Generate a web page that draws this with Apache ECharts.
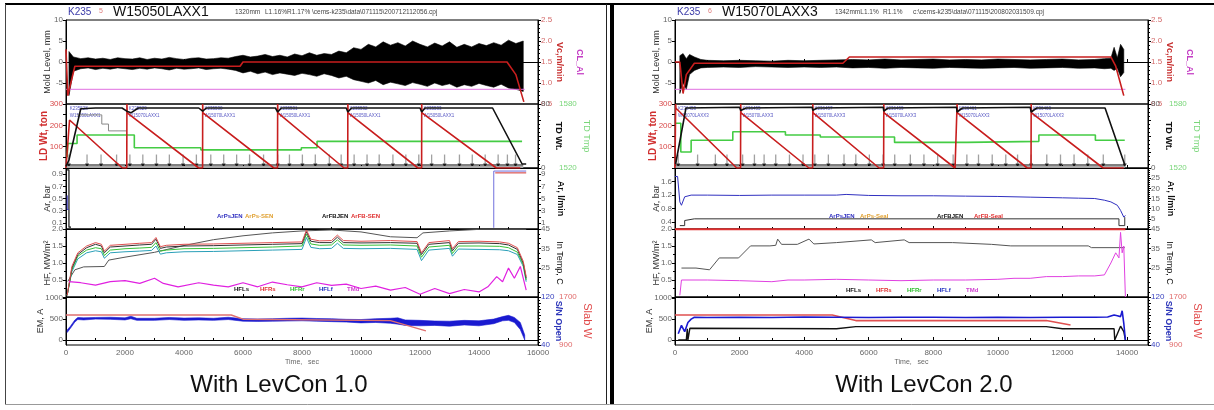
<!DOCTYPE html>
<html lang="en">
<head>
  <meta charset="UTF-8">
  <title>LevCon 1.0 vs LevCon 2.0</title>
  <script src="https://cdn.jsdelivr.net/npm/echarts@6/dist/echarts.min.js"></script>
  <style>
    html, body { margin: 0; padding: 0; background: #fff; }
    #chart { width: 1214px; height: 410px; }
  </style>
</head>
<body>
  <div id="chart"></div>
  <script>
    // ---------- LEFT: LevCon 1.0 (time in s) ----------
    // mold level noise envelope, mm
    var L_mlT = [100,250,500,750,1000,1250,1500,1750,2000,2250,2500,2750,3000,3250,3500,3750,4000,4250,4500,4750,5000,5250,5500,5750,6000,6250,6500,6750,7000,7250,7500,7750,8000,8250,8500,8750,9000,9250,9500,9750,10000,10250,10500,10750,11000,11250,11500,11750,12000,12250,12500,12750,13000,13250,13500,13750,14000,14250,14500,14750,15000,15250,15500];
    var L_mlHi = [2.5,1.2,0.8,1.0,0.7,0.9,0.6,1.0,0.8,0.7,1.0,0.6,0.9,0.7,1.1,0.8,0.6,0.9,1.0,0.7,0.8,1.0,0.9,1.3,1.6,1.2,1.4,1.8,1.3,1.6,1.2,1.9,1.5,2.2,1.6,2.0,1.8,2.6,2.2,3.4,3.0,4.2,3.6,4.8,4.0,4.6,3.8,5.0,4.2,3.6,4.5,3.8,4.8,3.5,4.2,3.6,4.4,3.9,4.6,4.0,5.2,4.4,5.0];
    var L_mlLo = [-8.0,-2.2,-1.6,-1.4,-1.8,-1.5,-1.7,-1.4,-1.6,-1.8,-1.5,-1.7,-1.4,-1.6,-1.9,-1.5,-1.7,-1.6,-1.4,-1.8,-1.6,-1.5,-1.7,-2.0,-2.6,-2.2,-2.8,-2.4,-3.0,-2.6,-2.9,-3.2,-2.7,-3.0,-3.4,-2.8,-3.2,-3.8,-3.4,-4.2,-4.6,-5.0,-4.4,-5.4,-4.8,-5.2,-5.6,-4.9,-5.3,-5.8,-5.0,-5.6,-5.2,-6.0,-5.4,-5.8,-5.1,-5.6,-6.0,-5.3,-6.2,-6.5,-7.0];
    // casting speed, m/min
    var L_vcT = [0, 60, 300, 5900, 6000, 14950, 15250, 15520];
    var L_vc = [1.8, 0.7, 1.4, 1.4, 1.5, 1.5, 1.2, 0.55];
    var L_clT = [0, 15550];
    var L_cl = [-6.5, -6.5];
    // ladle weight (ton), tundish weight, tundish temperature
    var L_ldT = [0,40,120,1910,2060,2065,2075,4500,4630,4633,4643,7045,7170,7175,7185,9425,9550,9554,9564,11930,12055,12058,12068,14585,15400];
    var L_ld = [0,0,225,0,0,300,258,0,0,300,258,0,0,300,258,0,0,300,258,0,0,300,258,0,0];
    var L_tdT = [0,100,500,1000,1900,2060,2200,2450,4500,4633,4760,7100,7175,7300,9500,9554,9680,12000,12058,12170,14460,15460,15600];
    var L_td = [2,10,74,75,75,71,69,75,75,71,75,75,70,75,75,70,75,75,70,75,75,5,5];
    var L_grayT = [375, 1213, 1213, 1440, 1440, 2060];
    var L_gray = [249, 249, 206, 206, 174, 174];
    var L_tmpT = [40,60,375,375,2316,2316,4570,4570,7977,7977,8510,8510,15460];
    var L_tmp = [1530,1543,1543,1551,1551,1539,1539,1537,1537,1539,1539,1545,1545];
    var L_ladleT = [90, 2090, 4660, 7200, 9580, 12085];
    var L_ladleNames = ['K235528\nW15050LAXX1','K235529\nW15070LAXX1','K235530\nW15070LAXX1','K235531\nW15050LAXX1','K235532\nW15050LAXX1','K235533\nW15050LAXX1'];
    var L_markT = [98,713,1188,1715,2166,2604,3066,3504,3969,4420,4908,5346,5784,6223,6697,7175,7574,8013,8451,8926,9328,9767,10205,10617,11082,11520,11959,12394,12833,13337,13772,14210,14649,14963,15238];
    // argon
    var L_arBlackT = [30, 100, 100, 170];
    var L_arBlack = [0.97, 0.97, 0.03, 0.03];
    var L_arBlueT = [40, 40, 90];
    var L_arBlue = [0.55, 0.32, 0.32];
    var L_arEndT = [14500, 14500, 15600];
    var L_arEnd = [0.02, 0.95, 0.95];
    var L_arRedT = [14550, 15600];
    var L_arRed = [0.92, 0.92];
    // heat flux, MW/m2
    var L_hfT = [40,200,400,700,1000,1200,1300,1500,2000,2500,2900,3050,3200,3400,4000,5000,6000,7000,8000,8150,8300,8600,9000,9200,9400,10000,11000,11900,12050,12300,13000,13100,13300,14000,14700,15000,15300,15500,15600];
    var L_hfRed = [0.05,0.9,1.3,1.5,1.6,1.55,1.35,1.52,1.55,1.58,1.6,1.75,1.48,1.52,1.55,1.56,1.58,1.6,1.62,1.97,1.7,1.65,1.66,1.82,1.66,1.64,1.66,1.63,1.3,1.6,1.66,1.42,1.63,1.64,1.62,1.58,1.45,1.05,0.6];
    var L_hfBlack = [0.05,0.85,1.25,1.45,1.55,1.5,1.3,1.47,1.5,1.53,1.55,1.7,1.43,1.47,1.5,1.51,1.53,1.55,1.57,1.92,1.64,1.6,1.6,1.76,1.6,1.59,1.6,1.58,1.25,1.55,1.6,1.36,1.58,1.59,1.57,1.53,1.4,1.0,0.55];
    var L_hfGreen = [0.05,0.8,1.2,1.38,1.45,1.42,1.22,1.38,1.42,1.44,1.46,1.6,1.35,1.38,1.42,1.43,1.45,1.47,1.5,1.85,1.56,1.52,1.53,1.68,1.53,1.52,1.53,1.5,1.17,1.47,1.52,1.28,1.5,1.5,1.49,1.45,1.32,0.95,0.5];
    var L_hfTeal = [0.05,0.75,1.12,1.3,1.36,1.33,1.14,1.3,1.33,1.35,1.37,1.5,1.26,1.3,1.33,1.34,1.36,1.38,1.4,1.75,1.46,1.42,1.43,1.58,1.43,1.42,1.43,1.4,1.07,1.38,1.43,1.2,1.41,1.4,1.39,1.36,1.25,0.9,0.45];
    var L_inT = [60,300,600,1300,1450,2000,3000,4000,5000,6000,7000,8000,9000,10000,11000,11900,12100,13000,14000,15000,15600];
    var L_in = [18,24,25.5,25.7,29,30.5,33,36.5,39.5,41.5,43,44,44.5,43.5,41,40.5,43,44,44.8,44.8,44.8];
    var L_magT = [100,500,1000,1500,2000,2500,3000,3300,3800,4500,5000,5500,6000,6500,7000,7500,8000,8500,9000,9500,10000,10500,11000,11500,12000,12500,13000,13500,14000,14300,14600,14800,15000,15200,15400,15600];
    var L_mag = [0.45,0.42,0.35,0.45,0.48,0.4,0.55,0.4,0.3,0.42,0.35,0.3,0.42,0.3,0.44,0.36,0.3,0.42,0.34,0.38,0.25,0.32,0.2,0.28,0.08,0.25,0.1,0.22,0.15,0.3,0.6,0.45,0.85,0.55,0.9,0.2];
    // EMBR current, A and slab width, mm
    var L_emT = [40,150,300,400,600,1000,1500,2000,2200,2400,3000,3500,4000,4500,5000,5500,6000,6500,7000,7500,8000,8500,9000,9500,10000,10500,11000,11250,11500,12000,12500,13000,13500,14000,14500,14800,15000,15200,15400,15550];
    var L_emHi = [240,330,480,540,530,540,545,530,570,520,520,540,525,530,520,545,510,505,510,520,525,515,510,495,490,510,520,530,480,470,455,450,470,460,500,560,590,540,420,120];
    var L_emLo = [180,280,430,490,480,500,495,480,510,470,470,490,470,480,470,490,450,445,450,455,460,450,440,430,410,420,400,380,350,340,350,330,360,340,390,460,470,420,250,0];
    var L_slabT = [0, 5600, 6000, 11000, 12200];
    var L_slab = [1400, 1400, 1330, 1307, 1135];

    // ---------- RIGHT: LevCon 2.0 ----------
    var R_mlT = [150,250,350,450,600,800,1000,1500,2000,2500,3000,3500,4000,4500,5000,5500,6000,6500,7000,7500,8000,8500,9000,9500,10000,10500,11000,11500,12000,12500,13000,13300,13500,13600,13700,13800,13900];
    var R_mlHi = [1.5,2.0,0.8,1.8,1.2,0.6,0.4,0.3,0.4,0.3,0.2,0.4,0.3,0.4,0.5,0.6,0.5,0.7,0.5,0.6,0.7,0.5,0.6,0.5,0.7,0.6,0.5,0.6,0.7,0.5,0.6,0.8,0.9,3.5,1.0,4.2,3.0];
    var R_mlLo = [-7.5,-5.0,-6.5,-3.0,-2.0,-1.4,-1.3,-1.2,-1.3,-1.1,-1.2,-1.3,-1.2,-1.3,-1.2,-1.4,-1.3,-1.5,-1.3,-1.4,-1.5,-1.3,-1.4,-1.5,-1.4,-1.3,-1.5,-1.4,-1.3,-1.5,-1.4,-1.6,-1.5,-2.0,-1.5,-3.5,-2.5];
    var R_vcT = [0, 150, 250, 350, 600, 5200, 5400, 13500, 13650, 13900];
    var R_vc = [1.5, 1.5, 0.75, 1.2, 1.47, 1.47, 1.62, 1.62, 1.4, 0.7];
    var R_clT = [0, 13950];
    var R_cl = [-6.5, -6.5];
    var R_ldT = [0,20,30,1912,2030,2035,2045,4148,4263,4268,4278,6322,6462,6467,6477,8674,8732,8737,8747,10911,11027,11032,11042,13260,13900];
    var R_ld = [0,300,280,0,0,300,258,0,0,300,258,0,0,300,258,0,0,300,258,0,0,300,258,0,0];
    var R_tdT = [20,340,2000,2035,2200,4250,4268,4400,6450,6467,6600,8720,8737,8900,11000,11032,11200,13320,13930];
    var R_td = [5,75,76,72,75,76,72,75,76,71,75,76,70,75,76,70,75,75,4];
    var R_tmpT = [20,180,180,500,500,1790,1790,3420,3420,4500,4500,6800,6800,9040,9040,11270,11270,13020,13020,13930];
    var R_tmp = [1562,1562,1535,1535,1546,1546,1554,1554,1551,1551,1549,1549,1544,1544,1545,1545,1551,1551,1546,1546];
    var R_ladleT = [60, 2060, 4290, 6490, 8760, 11055];
    var R_ladleNames = ['K236453\nW15070LAXX3','K236455\nW15070LAXX3','K236457\nW15070LAXX3','K236459\nW15070LAXX3','K236461\nW15070LAXX3','K236463\nW15070LAXX3'];
    var R_markT = [100,700,1250,1610,2095,2460,2760,3120,3545,3965,4330,4750,5235,5600,6020,6445,6805,7290,7710,8135,8615,9040,9400,9825,10245,10610,11030,11515,11940,12360,12785,13265,13930];
    var R_arT = [0,80,150,200,300,500,1000,2000,3000,4000,5000,5300,6000,7000,8000,9000,10000,11000,12000,12500,13000,13300,13500,13700,13800,13900,13950];
    var R_ar = [1.75,1.75,1.0,0.9,1.15,1.2,1.2,1.19,1.2,1.2,1.2,1.22,1.19,1.18,1.18,1.17,1.16,1.14,1.12,1.11,1.1,1.05,1.0,0.9,0.75,0.55,0.6];
    var R_arBlackT = [150, 300, 300, 600, 13750, 13750, 13930, 13930];
    var R_arBlack = [0.3, 0.3, 0.45, 0.5, 0.5, 0.3, 0.3, 0.55];
    var R_inT = [200,650,1070,1370,1970,2340,2940,3120,3180,3300,3790,4150,4300,5000,6080,6200,7100,7250,8600,9800,10400,12800,12900,13930];
    var R_in = [24.9,24.9,24,30.1,30.1,36.3,36.3,36.6,39.8,37.1,37.1,39.8,37.3,38,39.4,38,39.4,38,38,37.1,36.3,36.3,35.4,35.4];
    var R_magT = [150,200,1000,2000,3000,3500,4000,5000,6000,7000,8000,9000,10000,10500,11000,11500,12000,12500,13000,13300,13500,13650,13750,13800,13850,13900,13950];
    var R_mag = [0.05,0.5,0.5,0.48,0.45,0.5,0.5,0.52,0.5,0.48,0.5,0.5,0.52,0.55,0.55,0.6,0.6,0.62,0.62,0.65,1.0,1.3,1.15,1.9,1.3,1.5,0.0];
    var R_hfTopT = [0, 13950];
    var R_hfTop = [1.99, 1.99];
    var R_emBlueT = [100,200,300,400,500,600,1000,2000,3000,4000,5000,6000,7000,8000,9000,10000,11000,12000,13000,13400,13600,13700,13800,13850,13900,13950];
    var R_emBlue = [150,350,200,420,500,545,540,545,540,550,545,540,545,545,540,545,540,545,545,550,600,580,560,700,400,0];
    var R_emBlackT = [100,350,380,400,430,460,500,5000,5600,11500,12000,13600,13620,13650,13800,13900,13950];
    var R_emBlack = [0,0,270,0,0,280,270,270,320,320,270,270,0,0,330,200,0];
    var R_slabT = [0, 4870, 5600, 11500, 12250];
    var R_slab = [1400, 1400, 1307, 1307, 1233];

    // ---------- layout ----------
    var FONT = '"Liberation Sans", Arial, sans-serif';
    var PANELS = [{ left: 66, width: 472, xMax: 16000 }, { left: 675, width: 473, xMax: 14650 }];
    var ROWS = [[20, 84], [104, 64], [168, 61], [229, 68], [297, 48]];

    var grids = [], xAxes = [], yAxes = [], series = [], graphics = [];
    var f1 = function (v) { return v.toFixed(1); };
    var plain = function (v) { return String(v); };

    PANELS.forEach(function (p, pi) {
      ROWS.forEach(function (r, ri) {
        var g = pi * 5 + ri;
        grids.push({ left: p.left, top: r[0], width: p.width, height: r[1], show: true, borderColor: '#000', borderWidth: 1, backgroundColor: 'transparent' });
        xAxes.push({
          gridIndex: g, type: 'value', min: 0, max: p.xMax, interval: 2000,
          axisLine: { show: true, lineStyle: { color: '#000' } },
          axisTick: { show: true, inside: true, length: 3, lineStyle: { color: '#000' } },
          minorTick: { show: true, splitNumber: 2, length: 2, lineStyle: { color: '#000' } },
          splitLine: { show: false },
          axisLabel: { show: ri === 4, fontSize: 8, color: '#666', margin: 4, fontFamily: FONT, formatter: plain, showMaxLabel: pi === 0 },
          name: ri === 4 ? 'Time,   sec' : '', nameLocation: 'middle', nameGap: 14,
          nameTextStyle: { fontSize: 7, color: '#666', fontFamily: FONT }
        });
      });
    });

    function addY(g, o) {
      var right = o.pos === 'right';
      var ax = {
        gridIndex: g, type: 'value', position: right ? 'right' : 'left', offset: o.offset || 0,
        min: o.min, max: o.max,
        axisLine: { show: !o.noLine, lineStyle: { color: '#000' } },
        axisTick: { show: !o.noLine, length: 3, lineStyle: { color: '#000' }, customValues: o.tickValues },
        minorTick: { show: !!o.minor, splitNumber: o.minor || 2, length: 2, lineStyle: { color: '#000' } },
        splitLine: { show: false },
        axisLabel: { show: !!o.labels, customValues: o.labels, fontSize: 8, color: o.labelColor || '#666', margin: 3, fontFamily: FONT, formatter: o.fmt || plain },
        name: o.name || '', nameLocation: 'middle', nameGap: o.nameGap || 14, nameRotate: right ? -90 : 90,
        nameMoveOverlap: false,
        nameTextStyle: { color: o.nameColor || '#333', fontSize: o.nameSize || 9, fontFamily: FONT, fontWeight: o.bold ? 'bold' : 'normal' }
      };
      if (o.interval) ax.interval = o.interval;
      yAxes.push(ax);
      return yAxes.length - 1;
    }

    function line(g, yi, ts, vs, color, w, extra) {
      series.push(Object.assign({
        type: 'line', xAxisIndex: g, yAxisIndex: yi, symbol: 'none', silent: true, clip: true,
        data: ts.map(function (t, i) { return [t, vs[i]]; }),
        lineStyle: { color: color, width: w || 1 }, itemStyle: { color: color }
      }, extra || {}));
    }

    function band(g, yi, ts, hi, lo, color) {
      series.push({
        type: 'custom', coordinateSystem: 'cartesian2d', xAxisIndex: g, yAxisIndex: yi, silent: true, clip: true,
        data: [[ts[0], hi[0]]],
        renderItem: function (params, api) {
          var pts = [], i;
          for (i = 0; i < ts.length; i++) pts.push(api.coord([ts[i], hi[i]]));
          for (i = ts.length - 1; i >= 0; i--) pts.push(api.coord([ts[i], lo[i]]));
          return { type: 'polygon', shape: { points: pts }, style: { fill: color, stroke: color, lineWidth: 0.6 } };
        }
      });
    }

    function ladleLabels(g, yi, ts, names) {
      series.push({
        type: 'scatter', xAxisIndex: g, yAxisIndex: yi, symbolSize: 0, silent: true,
        data: ts.map(function (t, i) { return { value: [t, 262], name: names[i] }; }),
        label: { show: true, position: 'right', distance: 1, formatter: '{b}', fontSize: 4.5, lineHeight: 7, color: '#2a2ab4', fontFamily: FONT }
      });
    }

    function marks(g, yi, ts, xEnd) {
      line(g, yi, [0, xEnd], [14, 14], '#000', 1);
      line(g, yi, [0, xEnd], [5, 5], '#aaa', 2);
      series.push({ type: 'scatter', xAxisIndex: g, yAxisIndex: yi, silent: true, symbol: 'rect', symbolSize: [1.3, 9],
        itemStyle: { color: '#8a8a8a' }, data: ts.map(function (t) { return [t, 42]; }) });
      series.push({ type: 'scatter', xAxisIndex: g, yAxisIndex: yi, silent: true, symbol: 'triangle', symbolRotate: 180, symbolSize: 4,
        itemStyle: { color: '#000' }, data: ts.map(function (t) { return [t, 12]; }) });
    }

    function txt(x, y, s, size, color, extra) {
      graphics.push({ type: 'text', x: x, y: y, silent: true,
        style: Object.assign({ text: s, fontSize: size, fontFamily: FONT, fill: color, verticalAlign: 'middle' }, extra || {}) });
    }

    // ---------- axes for one panel ----------
    function panelAxes(pi) {
      var g = pi * 5, a = {};
      a.ml = addY(g, { min: -10, max: 10, interval: 5, labels: [-5, 0, 5, 10], name: 'Mold Level, mm' });
      a.vc = addY(g, { pos: 'right', min: 0.5, max: 2.5, interval: 0.5, minor: 5, labels: [0.5, 1, 1.5, 2, 2.5], fmt: f1, labelColor: '#d46a6a', name: 'Vc,m/min', nameColor: '#c83232', bold: true, nameGap: 17 });
      a.cl = addY(g, { pos: 'right', offset: 18, min: 0, max: 1, noLine: true, name: 'CL_Al', nameColor: '#c43cc4', bold: true, nameGap: 19 });
      a.ld = addY(g + 1, { min: 0, max: 300, interval: 50, labels: [100, 200, 300], labelColor: '#d94a4a', name: 'LD Wt, ton', nameColor: '#d03030', bold: true, nameSize: 10, nameGap: 17 });
      a.td = addY(g + 1, { pos: 'right', min: 0, max: 80, interval: 20, minor: 4, labels: [0, 80], name: 'TD Wt.', nameColor: '#111', bold: true, nameGap: 16 });
      a.tmp = addY(g + 1, { pos: 'right', offset: 18, min: 1520, max: 1580, noLine: true, labels: [1520, 1580], labelColor: '#7ad67a', name: 'TD Tmp', nameColor: '#7ad67a', nameGap: 26 });
      if (pi === 0) {
        a.ar = addY(g + 2, { min: 0, max: 1, interval: 0.1, labels: [0.1, 0.3, 0.5, 0.7, 0.9], fmt: f1, name: 'Ar, bar' });
        a.arl = addY(g + 2, { pos: 'right', min: 0, max: 10, interval: 1, labels: [1, 3, 5, 7, 9], name: 'Ar, l/min', nameColor: '#111', bold: true, nameGap: 18 });
      } else {
        a.ar = addY(g + 2, { min: 0.2, max: 2.0, tickValues: [0.4, 0.8, 1.2, 1.6], labels: [0.4, 0.8, 1.2, 1.6], fmt: f1, name: 'Ar, bar' });
        a.arl = addY(g + 2, { pos: 'right', min: 0, max: 30, interval: 5, minor: 5, labels: [5, 10, 15, 20, 25], name: 'Ar, l/min', nameColor: '#111', bold: true, nameGap: 18 });
      }
      a.hf = addY(g + 3, { min: 0, max: 2, interval: 0.5, minor: 2, labels: [0.5, 1, 1.5, 2], fmt: f1, name: 'HF, MW/m²' });
      a.tin = addY(g + 3, { pos: 'right', min: 10, max: 45, interval: 5, minor: 2, labels: [25, 35, 45], name: 'In Temp, C', nameColor: '#111', nameGap: 17 });
      a.em = addY(g + 4, { min: -120, max: 1030, tickValues: [0, 500, 1000], labels: [0, 500, 1000], name: 'EM, A', nameGap: 21 });
      a.sn = addY(g + 4, { pos: 'right', min: 40, max: 120, interval: 10, minor: 2, labels: [40, 120], labelColor: '#3b44c0', name: 'S/N Open', nameColor: '#2b34b8', bold: true, nameGap: 16 });
      a.slab = addY(g + 4, { pos: 'right', offset: 18, min: 900, max: 1700, noLine: true, labels: [900, 1700], labelColor: '#e06a6a', name: 'Slab W', nameColor: '#e04848', nameSize: 11, nameGap: 26 });
      return a;
    }

    var A = panelAxes(0);
    band(0, A.ml, L_mlT, L_mlHi, L_mlLo, '#000');
    line(0, A.ml, L_clT, L_cl, '#e070e0', 1);
    line(0, A.vc, L_vcT, L_vc, '#c81e1e', 1.6);
    marks(1, A.ld, L_markT, 15500);
    line(1, A.ld, L_grayT, L_gray, '#888', 1);
    line(1, A.tmp, L_tmpT, L_tmp, '#44cc44', 1.6);
    line(1, A.ld, L_ldT, L_ld, '#c81e1e', 1.6);
    line(1, A.td, L_tdT, L_td, '#111', 1.6);
    ladleLabels(1, A.ld, L_ladleT, L_ladleNames);
    line(2, A.ar, L_arBlackT, L_arBlack, '#111', 1.2);
    line(2, A.ar, L_arBlueT, L_arBlue, '#3030c0', 1);
    line(2, A.ar, L_arRedT, L_arRed, '#d03030', 1);
    line(2, A.ar, L_arEndT, L_arEnd, '#7070dd', 1);
    line(3, A.tin, L_inT, L_in, '#555', 1);
    line(3, A.hf, L_hfT, L_hfTeal, '#2a9fb8', 1);
    line(3, A.hf, L_hfT, L_hfGreen, '#38c038', 1);
    line(3, A.hf, L_hfT, L_hfBlack, '#333', 1);
    line(3, A.hf, L_hfT, L_hfRed, '#e05050', 1);
    line(3, A.hf, L_magT, L_mag, '#e020e0', 1.2);
    band(4, A.em, L_emT, L_emHi, L_emLo, '#1a1ad0');
    line(4, A.slab, L_slabT, L_slab, '#e07070', 1.4);

    var B = panelAxes(1);
    band(5, B.ml, R_mlT, R_mlHi, R_mlLo, '#000');
    line(5, B.ml, R_clT, R_cl, '#e070e0', 1);
    line(5, B.vc, R_vcT, R_vc, '#c81e1e', 1.6);
    marks(6, B.ld, R_markT, 13930);
    line(6, B.tmp, R_tmpT, R_tmp, '#44cc44', 1.6);
    line(6, B.ld, R_ldT, R_ld, '#c81e1e', 1.6);
    line(6, B.td, R_tdT, R_td, '#111', 1.6);
    ladleLabels(6, B.ld, R_ladleT, R_ladleNames);
    line(7, B.ar, R_arBlackT, R_arBlack, '#333', 1);
    line(7, B.ar, R_arT, R_ar, '#3030c0', 1);
    line(8, B.hf, R_hfTopT, R_hfTop, '#e03030', 2);
    line(8, B.tin, R_inT, R_in, '#555', 1);
    line(8, B.hf, R_magT, R_mag, '#e040e0', 1);
    line(9, B.slab, R_slabT, R_slab, '#e05050', 1.6);
    line(9, B.em, R_emBlackT, R_emBlack, '#111', 1.4);
    line(9, B.em, R_emBlueT, R_emBlue, '#1a1ad0', 1.6);

    // ---------- titles, legends, captions ----------
    txt(68, 12, 'K235', 10, '#3a3aa8');
    txt(99, 11, '5', 7, '#e08080');
    txt(113, 12, 'W15050LAXX1', 14, '#111');
    txt(235, 12, '1320mm', 6.5, '#444');
    txt(265, 12, 'L1.16%R1.17% \\cems-k235\\data\\071115\\200712112056.cpj', 6.5, '#444');
    txt(677, 12, 'K235', 10, '#3a3aa8');
    txt(708, 11, '6', 7, '#e08080');
    txt(722, 12, 'W15070LAXX3', 14, '#111');
    txt(835, 12, '1342mmL1.1%', 6.5, '#444');
    txt(883, 12, 'R1.1%', 6.5, '#444');
    txt(913, 12, 'c:\\cems-k235\\data\\071115\\200802031509.cpj', 6.5, '#444');

    var legB = { fontWeight: 'bold' };
    txt(217, 216, 'ArPsJEN', 6, '#3030c0', legB); txt(245, 216, 'ArPs-SEN', 6, '#e0a030', legB);
    txt(322, 216, 'ArFBJEN', 6, '#111', legB); txt(351, 216, 'ArFB-SEN', 6, '#e03030', legB);
    txt(829, 216, 'ArPsJEN', 6, '#3030c0', legB); txt(860, 216, 'ArPs-Seal', 6, '#e0a030', legB);
    txt(937, 216, 'ArFBJEN', 6, '#111', legB); txt(974, 216, 'ArFB-Seal', 6, '#e03030', legB);
    var hfLeg = ['HFLs', 'HFRs', 'HFRr', 'HFLf', 'TMd'];
    var hfCol = ['#111', '#e03030', '#30c030', '#2030c0', '#d040d0'];
    [234, 260, 290, 319, 347].forEach(function (x, i) { txt(x, 289, hfLeg[i], 6, hfCol[i], legB); });
    [846, 876, 907, 937, 966].forEach(function (x, i) { txt(x, 290, hfLeg[i], 6, hfCol[i], legB); });

    txt(279, 385, 'With LevCon 1.0', 24, '#111', { align: 'center' });
    txt(924, 385, 'With LevCon 2.0', 24, '#111', { align: 'center' });

    // panel borders
    graphics.push({ type: 'line', silent: true, shape: { x1: 5, y1: 4, x2: 1214, y2: 4 }, style: { stroke: '#000', lineWidth: 2 } });
    graphics.push({ type: 'line', silent: true, shape: { x1: 5.5, y1: 4, x2: 5.5, y2: 404 }, style: { stroke: '#444', lineWidth: 1 } });
    graphics.push({ type: 'line', silent: true, shape: { x1: 5, y1: 404.5, x2: 1214, y2: 404.5 }, style: { stroke: '#999', lineWidth: 1 } });
    graphics.push({ type: 'line', silent: true, shape: { x1: 606.5, y1: 4, x2: 606.5, y2: 404 }, style: { stroke: '#222', lineWidth: 1 } });
    graphics.push({ type: 'rect', silent: true, shape: { x: 610, y: 4, width: 4, height: 400 }, style: { fill: '#000' } });

    var chart = echarts.init(document.getElementById('chart'));
    chart.setOption({
      animation: false,
      backgroundColor: '#fff',
      textStyle: { fontFamily: FONT },
      grid: grids,
      xAxis: xAxes,
      yAxis: yAxes,
      series: series,
      graphic: graphics
    });
  </script>
</body>
</html>
